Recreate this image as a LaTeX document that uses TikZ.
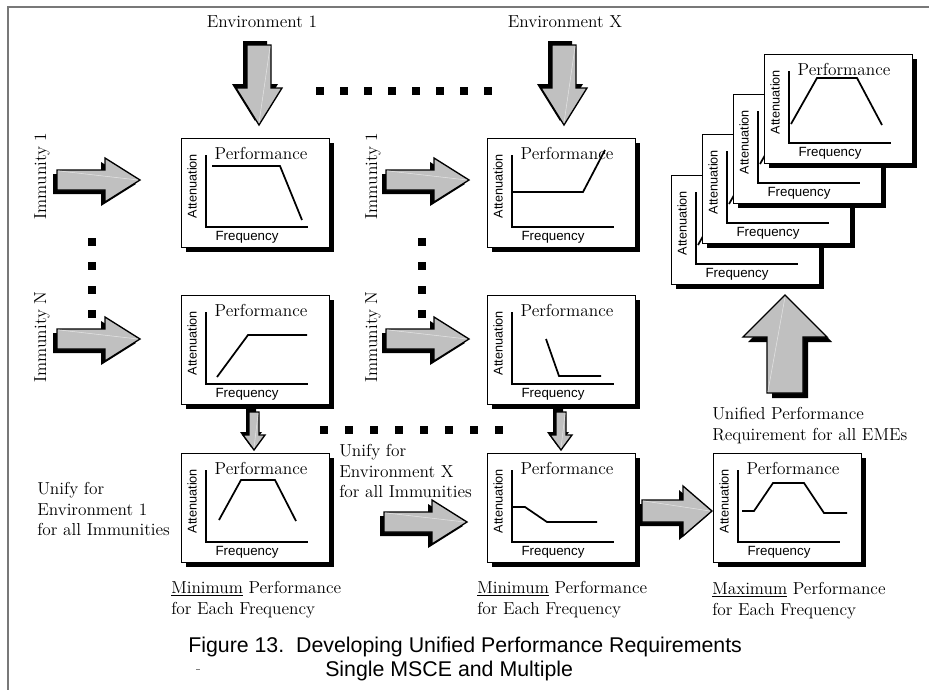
\documentclass[tikz,border=0pt]{standalone}
\usepackage{fontspec}
\newfontfamily\arialfont{Liberation Sans}
\definecolor{arrowgray}{RGB}{192,192,192}
\definecolor{framegray}{RGB}{120,120,120}
\definecolor{hilite}{RGB}{228,228,228}
\tikzset{
  lbl/.style={font=\fontsize{13}{15.4}\selectfont, inner sep=0pt, align=left},
  boxframe/.style={draw=black, line width=0.75pt, fill=white, minimum width=111pt, minimum height=81.75pt, inner sep=0pt},
  perf/.style={font=\fontsize{13}{15}\selectfont, inner sep=0pt},
  freq/.style={font=\arialfont\fontsize{10}{12}\selectfont, inner sep=0pt},
  atten/.style={font=\arialfont\fontsize{9.5}{11}\selectfont, inner sep=0pt, rotate=90},
  axisline/.style={line width=1.6pt},
  curveline/.style={line width=1.3pt},
  fatfill/.style={fill=arrowgray, draw=black, line width=1pt, line join=miter},
  hl/.style={draw=hilite, line width=0.4pt},
  dotline/.style={line width=6pt, dash pattern=on 6pt off 12pt},
  dotlineb/.style={line width=6pt, dash pattern=on 6pt off 12.75pt},
  capt/.style={font=\arialfont\fontsize{16}{19}\selectfont, inner sep=0pt, anchor=north west},
  framel/.style={draw=framegray, line width=1.5pt}
}
% #1 x, #2 y (tail centre), #3 angle, #4 length, #5 shaft half width, #6 head half width, #7 head length, #8 shadow offset
\newcommand\mkfatarrow[8]{%
  \begin{scope}[shift={(#1,#2)}, rotate=#3]
    \fill[black, shift={(-#8,#8)}] (0,-#5) -- ({#4-#7},-#5) -- ({#4-#7},-#6) -- (#4,0) -- ({#4-#7},#6) -- ({#4-#7},#5) -- (0,#5) -- cycle;
    \filldraw[fatfill] (0,-#5) -- ({#4-#7},-#5) -- ({#4-#7},-#6) -- (#4,0) -- ({#4-#7},#6) -- ({#4-#7},#5) -- (0,#5) -- cycle;
    \draw[hl] (0.8,-#5+0.8) -- (#4-2,0);
  \end{scope}}
% #1 name, #2 x, #3 y (top-left), #4 curve, #5 show title (1/0)
\newcommand\mkplotbox[5]{%
  \begin{scope}[shift={(#2,#3)}]
    \fill[black] (5,5) rectangle (153,114);
    \node[boxframe, anchor=north west] (#1) at (0,0) {};
    \ifnum#5=1 \node[perf] (#1p) at (80,15) {Performance};\fi
    \node[atten] (#1a) at (11,48) {Attenuation};
    \draw[axisline] (25,17) -- (25,89) -- (127,89);
    \node[freq] (#1f) at (66,99) {Frequency};
    \draw[curveline] #4;
  \end{scope}}
\begin{document}
\begin{tikzpicture}[x=0.75pt, y=-0.75pt]
\useasboundingbox (0,0) rectangle (929,690);
\fill[white] (0,0) rectangle (929,690);
% frame
\coordinate (ftl) at (8,7);
\coordinate (ftr) at (929,7);
\coordinate (fbl) at (8,690);
\draw[framel] (ftr) -- (ftl) -- (fbl);

% headings
\node[lbl] (env1) at (262,22) {Environment 1};
\node[lbl] (envX) at (565,22) {Environment X};
\node[lbl, rotate=90] (imm1a) at (42,176) {Immunity 1};
\node[lbl, rotate=90] (immNa) at (42,337) {Immunity N};
\node[lbl, rotate=90] (imm1b) at (373,176) {Immunity 1};
\node[lbl, rotate=90] (immNb) at (373,337) {Immunity N};

% dotted lines
\coordinate (dt1) at (316,91);  \coordinate (dt2) at (493,91);
\coordinate (dm1) at (320,430); \coordinate (dm2) at (503,430);
\coordinate (dv1) at (92,238);  \coordinate (dv2) at (92,318);
\coordinate (dw1) at (422,238); \coordinate (dw2) at (422,318);
\draw[dotline] (dt1) -- (dt2);
\draw[dotlineb] (dm1) -- (dm2);
\draw[dotline] (dv1) -- (dv2);
\draw[dotline] (dw1) -- (dw2);

% big arrows
\mkfatarrow{259}{45}{-90}{80}{12}{23}{37}{4}
\mkfatarrow{564}{45}{-90}{80}{12}{23}{37}{4}
\mkfatarrow{57}{180}{0}{83}{10}{22}{35}{4}
\mkfatarrow{57}{339}{0}{83}{10}{22}{35}{4}
\mkfatarrow{386}{180}{0}{83}{10}{22}{35}{4}
\mkfatarrow{386}{339}{0}{83}{10}{22}{35}{4}
\mkfatarrow{384}{522}{0}{83}{10}{22}{35}{4}
\mkfatarrow{642}{511}{0}{70}{11}{25}{29}{4}
\mkfatarrow{785}{393}{90}{98}{18}{42}{42}{5}
\mkfatarrow{254}{412}{-90}{38}{5}{11}{15}{3}
\mkfatarrow{561}{412}{-90}{38}{5}{11}{15}{3}

% plot boxes
\mkplotbox{A1}{181}{138}{(31,28) -- (99,28) -- (121,82)}{1}
\mkplotbox{A2}{181}{295}{(36,82) -- (67,40) -- (126,40)}{1}
\mkplotbox{A3}{181}{453}{(38,67) -- (60,27) -- (94,27) -- (115,68)}{1}
\mkplotbox{B1}{487}{138}{(26,54) -- (96,54) -- (118,12)}{1}
\mkplotbox{B2}{487}{295}{(59,44) -- (72,81) -- (114,81)}{1}
\mkplotbox{B3}{487}{453}{(26,54) -- (38,54) -- (60,69) -- (110,69)}{1}
\mkplotbox{C3}{713}{453}{(29,58) -- (41,58) -- (60,30) -- (91,30) -- (111,60) -- (134,60)}{1}
% stacked results (back ones have their titles hidden)
\mkplotbox{S1}{671}{175}{(27,70) -- (53,24) -- (93,24) -- (118,71)}{0}
\mkplotbox{S2}{702}{134}{(27,70) -- (53,24) -- (93,24) -- (118,71)}{0}
\mkplotbox{S3}{733}{94}{(27,70) -- (53,24) -- (93,24) -- (118,71)}{0}
\mkplotbox{S4}{764}{54}{(27,70) -- (53,24) -- (93,24) -- (118,71)}{1}

% lower labels
\node[lbl, anchor=north west] (unify1) at (37,482) {Unify for\\Environment 1\\for all Immunities};
\node[lbl, anchor=north west] (unifyX) at (339,444) {Unify for\\Environment X\\for all Immunities};
\node[lbl, anchor=north west] (unified) at (712,407) {Unified Performance\\Requirement for all EMEs};
\node[lbl, anchor=north west] (min1) at (171,581) {\underline{Minimum} Performance\\for Each Frequency};
\node[lbl, anchor=north west] (min2) at (477,581) {\underline{Minimum} Performance\\for Each Frequency};
\node[lbl, anchor=north west] (max3) at (712,582) {\underline{Maximum} Performance\\for Each Frequency};

% caption
\node[capt] (cap1) at (188,637) {Figure 13.\ \ Developing Unified Performance Requirements};
\node[capt] (cap2) at (325,661) {Single MSCE and Multiple};
\coordinate (tk1) at (196,669); \coordinate (tk2) at (200,669);
\draw[gray, line width=0.6pt] (tk1) -- (tk2);
\end{tikzpicture}
\end{document}
